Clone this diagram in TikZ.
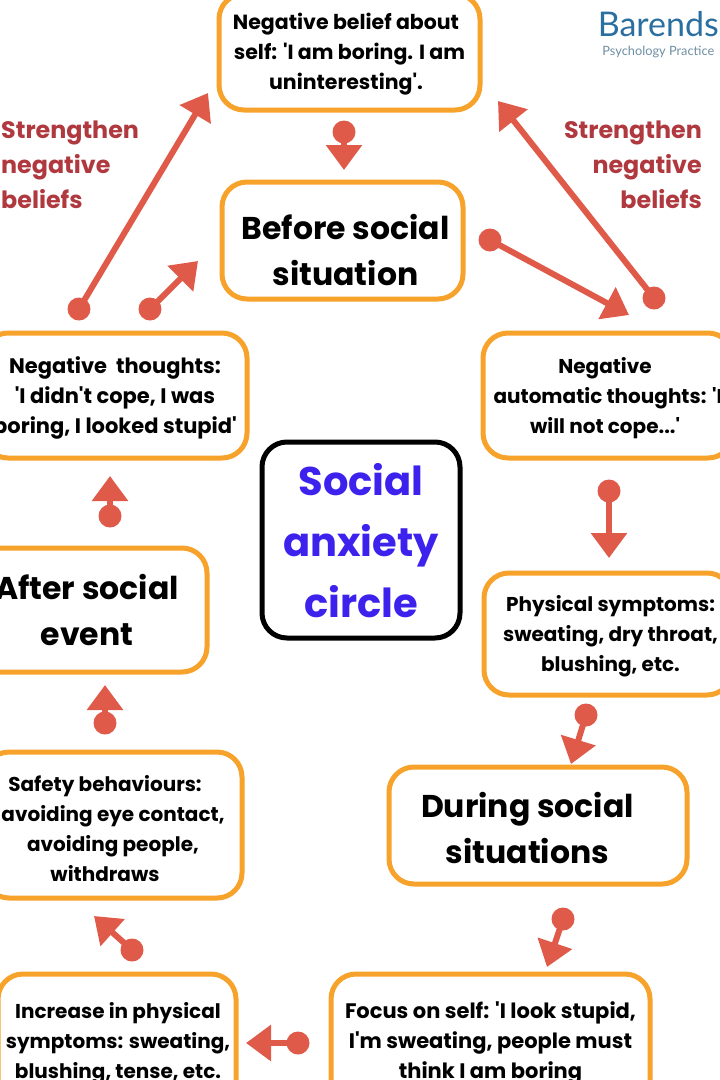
\documentclass[tikz,border=0pt]{standalone}
\usepackage{fontspec}
\usepackage{xcolor}
\setmainfont{Poppins}[Ligatures=TeXOff]
\newfontfamily\logofont{Lato}
\usetikzlibrary{arrows.meta, positioning}
\definecolor{boxorange}{HTML}{F7A22B}
\definecolor{arrowred}{HTML}{DF5A49}
\definecolor{beliefred}{HTML}{B0393F}
\definecolor{titleblue}{HTML}{3D22EE}
\definecolor{logoblue}{HTML}{2B6FA0}
\definecolor{logogrey}{HTML}{6E8FA3}
\newcommand{\lowered}[1]{\rule{0pt}{#1pt}}
\newcommand{\nudge}[1]{\hspace*{#1pt}}

\begin{document}
\begin{tikzpicture}[
    x=1pt, y=-1pt,
    stage/.style={draw=boxorange, line width=5pt, rounded corners=25pt, fill=white,
      align=center, inner sep=0pt, font=\fontsize{21}{30}\selectfont\bfseries},
    smallstage/.style={stage, font=\fontsize{20}{30}\selectfont\bfseries},
    bigstage/.style={stage, font=\fontsize{31.5}{46}\selectfont\bfseries},
    beliefs/.style={text=beliefred, inner sep=0pt, font=\fontsize{23.8}{34.6}\selectfont\bfseries},
    dot/.style={circle, fill=arrowred, minimum size=23pt, inner sep=0pt},
    arr/.style={-{Triangle[length=25pt, width=35pt]}, draw=arrowred, line width=6pt, shorten <=-2pt},
  ]
    \useasboundingbox (0,0) rectangle (720,1080);
    \clip (0,0) rectangle (720,1080);
    \fill[white] (0,0) rectangle (720,1080);

    % boxes
    \node[stage, font=\fontsize{20.5}{30}\selectfont\bfseries, minimum width=261pt, minimum height=116pt] (belief) at (349.5,52)
      {\lowered{21}Negative belief about\nudge{7}\\self: 'I am boring. I am\nudge{7}\\uninteresting'.\nudge{7}};
    \node[bigstage, minimum width=241pt, minimum height=117pt] (before) at (342.5,240.5)
      {\lowered{45}\nudge{6}Before social\\\nudge{6}situation};
    \node[stage, minimum width=264pt, minimum height=125pt] (thoughts) at (115,395.5)
      {\lowered{22}Negative\ \ thoughts:\\'I didn't cope, I was\\boring, I looked stupid'};
    \node[smallstage, minimum width=250pt, minimum height=125pt] (autothoughts) at (608,395.5)
      {\lowered{21}Negative\nudge{6}\\automatic thoughts: 'I\nudge{6}\\will not cope...'\nudge{6}};
    \node[draw=black, line width=5pt, rounded corners=25pt, minimum width=198pt, minimum height=196pt,
      align=center, inner sep=0pt, text=titleblue, font=\fontsize{40}{61}\selectfont\bfseries] (anxiety) at (361,540)
      {\lowered{34}Social\\anxiety\\circle};
    \node[bigstage, minimum width=244pt, minimum height=124pt] (after) at (85,610)
      {\lowered{25}\nudge{4}After social\\\nudge{4}event};
    \node[smallstage, minimum width=248pt, minimum height=122pt] (physical) at (608,634)
      {\lowered{21}\nudge{5}Physical symptoms:\\\nudge{5}sweating, dry throat,\\\nudge{5}blushing, etc.};
    \node[smallstage, minimum width=258pt, minimum height=146pt] (safety) at (113,825)
      {\lowered{23}Safety behaviours:\nudge{16}\\avoiding eye contact,\nudge{16}\\avoiding people,\nudge{16}\\withdraws\nudge{16}};
    \node[bigstage, minimum width=298pt, minimum height=117pt] (during) at (538,825.5)
      {\lowered{31}During social\nudge{21}\\situations\nudge{21}};
    \node[smallstage, minimum width=238pt, minimum height=136pt] (increase) at (117,1042)
      {\lowered{19}\nudge{2}Increase in physical\\\nudge{2}symptoms: sweating,\\\nudge{2}blushing, tense, etc.};
    \node[stage, minimum width=319pt, minimum height=136pt] (focus) at (490.5,1042)
      {\lowered{19}Focus on self: 'I look stupid,\\I'm sweating, people must\\think I am boring};

    % labels
    \node[beliefs, anchor=north west, align=left] (strengthleft) at (1,121)
      {Strengthen\\negative\\beliefs};
    \node[beliefs, anchor=north east, align=right] (strengthright) at (702,121)
      {Strengthen\\negative\\beliefs};

    % logo
    \node[anchor=base east, inner sep=0pt, text=logoblue, font=\logofont\fontsize{34}{35}\selectfont] (logo) at (719,36) {Barends};
    \node[anchor=base east, inner sep=0pt, text=logogrey, font=\logofont\fontsize{12.8}{14}\selectfont] (practice) at (714.5,55) {Psychology Practice};

    % arrows
    \node[dot] (d1) at (344,132) {};
    \coordinate (t1) at (344,170);
    \draw[arr] (d1) -- (t1);
    \node[dot] (d2) at (79,309) {};
    \coordinate (t2) at (208,93);
    \draw[arr] (d2) -- (t2);
    \node[dot] (d3) at (150,309) {};
    \coordinate (t3) at (198,261);
    \draw[arr] (d3) -- (t3);
    \node[dot] (d4) at (490,240) {};
    \coordinate (t4) at (629,315);
    \draw[arr] (d4) -- (t4);
    \node[dot] (d5) at (654,298) {};
    \coordinate (t5) at (498,101);
    \draw[arr] (d5) -- (t5);
    \node[dot] (d6) at (609,491) {};
    \coordinate (t6) at (609,558);
    \draw[arr] (d6) -- (t6);
    \node[dot] (d7) at (586,715) {};
    \coordinate (t7) at (571,764);
    \draw[arr] (d7) -- (t7);
    \node[dot] (d8) at (563,919) {};
    \coordinate (t8) at (547,967);
    \draw[arr] (d8) -- (t8);
    \node[dot] (d9) at (298,1043) {};
    \coordinate (t9) at (246,1043);
    \draw[arr] (d9) -- (t9);
    \node[dot] (d10) at (132,950) {};
    \coordinate (t10) at (94,916);
    \draw[arr] (d10) -- (t10);
    \node[dot] (d11) at (105,723) {};
    \coordinate (t11) at (105,685);
    \draw[arr] (d11) -- (t11);
    \node[dot] (d12) at (110,516) {};
    \coordinate (t12) at (110,476);
    \draw[arr] (d12) -- (t12);
  \end{tikzpicture}
\end{document}
